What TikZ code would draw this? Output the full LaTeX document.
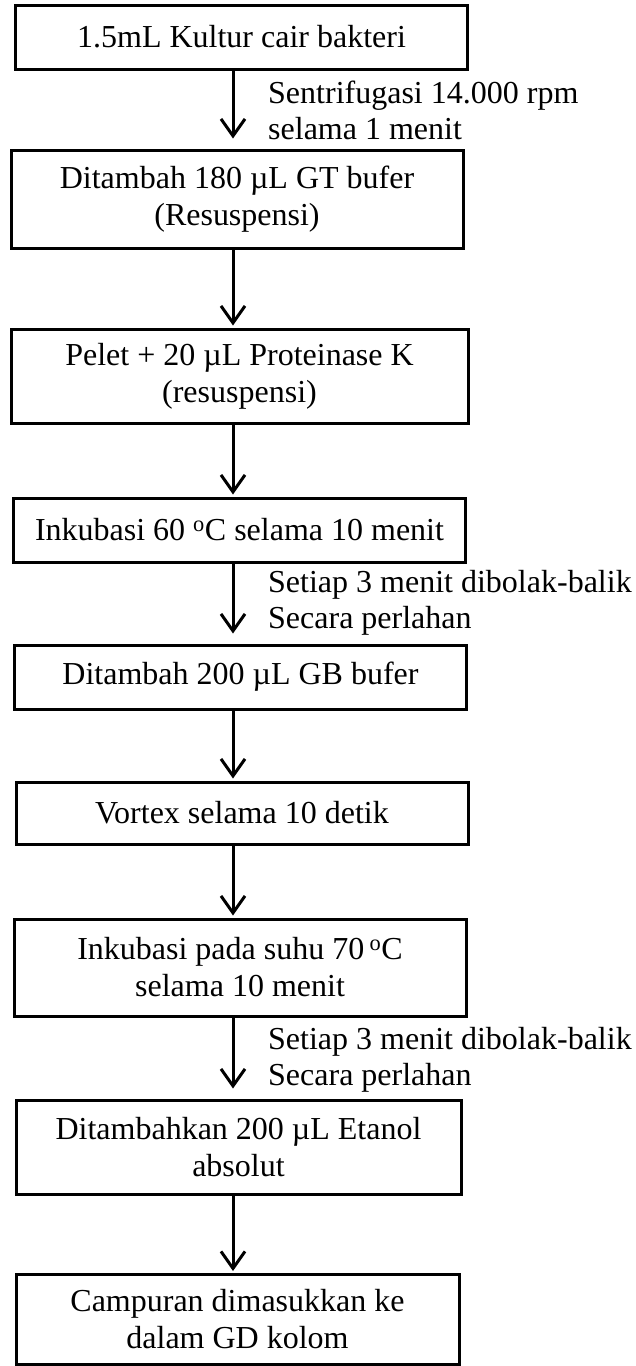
\documentclass[tikz,border=0pt]{standalone}
\usepackage{fontspec}
\setmainfont{Liberation Serif}
\usetikzlibrary{arrows.meta}

\tikzset{
 box/.style={draw, line width=3pt, align=center, minimum width=452pt, minimum height=63pt, inner sep=0pt, font=\fontsize{32}{37}\selectfont},
 box2/.style={box, minimum height=94pt},
 note/.style={anchor=west, align=left, inner sep=0pt, font=\fontsize{32}{36}\selectfont},
 arr/.style={line width=3pt, shorten >=2pt, -{Straight Barb[length=17pt, width=24pt]}},
 arrlong/.style={arr, shorten >=10pt}
}

\begin{document}
\begin{tikzpicture}[x=1pt, y=-1pt]
\useasboundingbox (0,0) rectangle (636,1366);

 \node[box, minimum height=64pt] (b1) at (241.5,37) {1.5mL Kultur cair bakteri};
  \node[box2, minimum height=98pt] (b2) at (237,199) {Ditambah 180 µL GT bufer\\(Resuspensi)};
   \node[box2, minimum width=457pt] (b3) at (239.5,376) {Pelet + 20 µL Proteinase K\\(resuspensi)};
    \node[box, minimum height=64pt] (b4) at (239.5,530) {Inkubasi 60 \textsuperscript{o}C selama 10 menit};
     \node[box, minimum height=64pt] (b5) at (240.5,677) {Ditambah 200 µL GB bufer};
      \node[box, minimum height=62pt] (b6) at (242,813) {Vortex selama 10 detik};
       \node[box2, minimum height=97pt] (b7) at (240,967.5) {Inkubasi pada suhu 70\,\textsuperscript{o}C\\selama 10 menit};
        \node[box2, minimum width=445pt] (b8) at (238.5,1147) {Ditambahkan 200 µL Etanol\\absolut};
         \node[box2, minimum width=443pt, minimum height=90pt] (b9) at (237.5,1319.5) {Campuran dimasukkan ke\\dalam GD kolom};

 \node[note] (t1) at (268,110) {Sentrifugasi 14.000 rpm\\selama 1 menit};
 \node[note] (t4) at (268,603) {Setiap 3 menit dibolak-balik\\Secara perlahan};
 \node[note] (t7) at (268,1060) {Setiap 3 menit dibolak-balik\\Secara perlahan};

 \coordinate (ax) at (233,0);

 \draw[arrlong] (b1.south -| ax) -- (b2.north -| ax);
 \draw[arr] (b2.south -| ax) -- (b3.north -| ax);
 \draw[arr] (b3.south -| ax) -- (b4.north -| ax);
 \draw[arrlong] (b4.south -| ax) -- (b5.north -| ax);
 \draw[arr] (b5.south -| ax) -- (b6.north -| ax);
 \draw[arr] (b6.south -| ax) -- (b7.north -| ax);
 \draw[arrlong] (b7.south -| ax) -- (b8.north -| ax);
 \draw[arr] (b8.south -| ax) -- (b9.north -| ax);

\end{tikzpicture}
\end{document}
